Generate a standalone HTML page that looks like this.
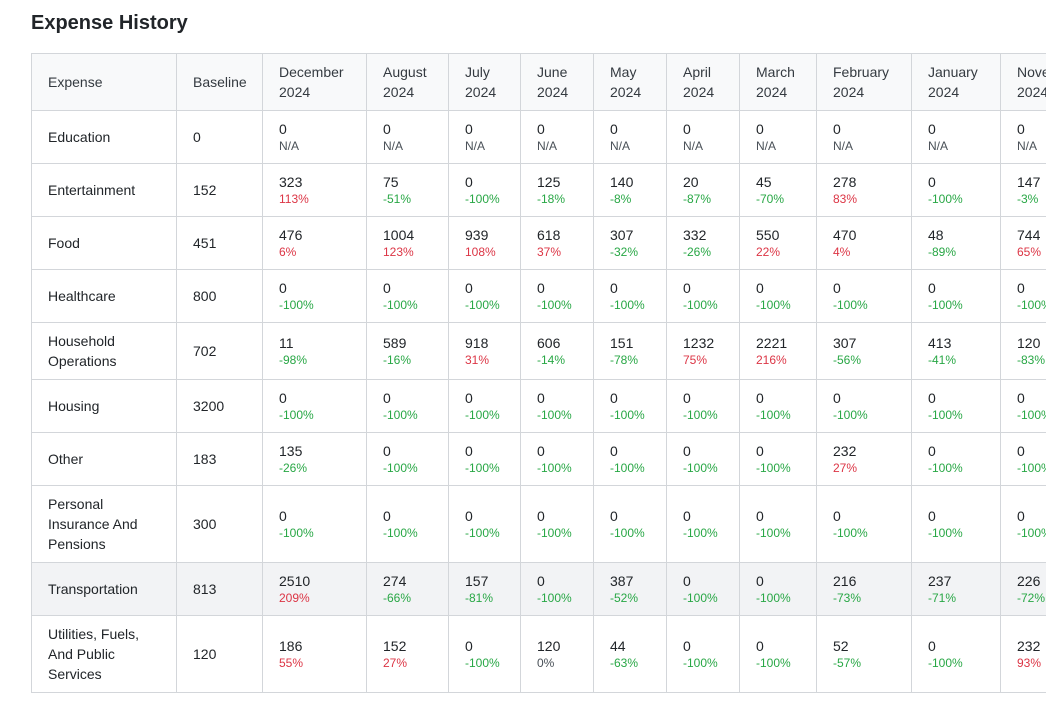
<!DOCTYPE html>
<html><head><meta charset="utf-8"><style>
html,body{margin:0;padding:0;background:#fff;width:1046px;height:701px;overflow:hidden;font-family:"Liberation Sans",Arial,sans-serif;color:#212529}
h1{position:absolute;left:31px;top:10px;margin:0;font-size:20px;font-weight:bold;line-height:26px}
table{position:absolute;left:31px;top:53px;border-collapse:collapse;table-layout:fixed;width:1100px}
td,th{border:1px solid #d3d6da;padding:0 8px 0 16px;font-size:14px;line-height:20px;vertical-align:middle;text-align:left;font-weight:normal}
th{background:#f8f9fa;color:#343a40}
td .v{line-height:18px}
td .p{font-size:12px;line-height:16px}
.r{color:#dc3545}.g{color:#28a745}.n{color:#495057}
tr.hl td{background:#f2f3f5}
</style></head><body>
<h1>Expense History</h1>
<table>
<colgroup><col style="width:145px"><col style="width:86px"><col style="width:104px"><col style="width:82px"><col style="width:72px"><col style="width:73px"><col style="width:73px"><col style="width:73px"><col style="width:77px"><col style="width:95px"><col style="width:89px"><col style="width:131px"></colgroup>
<tr style="height:57px"><th>Expense</th><th>Baseline</th><th>December<br>2024</th><th>August<br>2024</th><th>July<br>2024</th><th>June<br>2024</th><th>May<br>2024</th><th>April<br>2024</th><th>March<br>2024</th><th>February<br>2024</th><th>January<br>2024</th><th>November<br>2024</th></tr>
<tr style="height:53px"><td>Education</td><td>0</td>
<td><div class="v">0</div><div class="p n">N/A</div></td><td><div class="v">0</div><div class="p n">N/A</div></td><td><div class="v">0</div><div class="p n">N/A</div></td><td><div class="v">0</div><div class="p n">N/A</div></td><td><div class="v">0</div><div class="p n">N/A</div></td><td><div class="v">0</div><div class="p n">N/A</div></td><td><div class="v">0</div><div class="p n">N/A</div></td><td><div class="v">0</div><div class="p n">N/A</div></td><td><div class="v">0</div><div class="p n">N/A</div></td><td><div class="v">0</div><div class="p n">N/A</div></td></tr>
<tr style="height:53px"><td>Entertainment</td><td>152</td>
<td><div class="v">323</div><div class="p r">113%</div></td><td><div class="v">75</div><div class="p g">-51%</div></td><td><div class="v">0</div><div class="p g">-100%</div></td><td><div class="v">125</div><div class="p g">-18%</div></td><td><div class="v">140</div><div class="p g">-8%</div></td><td><div class="v">20</div><div class="p g">-87%</div></td><td><div class="v">45</div><div class="p g">-70%</div></td><td><div class="v">278</div><div class="p r">83%</div></td><td><div class="v">0</div><div class="p g">-100%</div></td><td><div class="v">147</div><div class="p g">-3%</div></td></tr>
<tr style="height:53px"><td>Food</td><td>451</td>
<td><div class="v">476</div><div class="p r">6%</div></td><td><div class="v">1004</div><div class="p r">123%</div></td><td><div class="v">939</div><div class="p r">108%</div></td><td><div class="v">618</div><div class="p r">37%</div></td><td><div class="v">307</div><div class="p g">-32%</div></td><td><div class="v">332</div><div class="p g">-26%</div></td><td><div class="v">550</div><div class="p r">22%</div></td><td><div class="v">470</div><div class="p r">4%</div></td><td><div class="v">48</div><div class="p g">-89%</div></td><td><div class="v">744</div><div class="p r">65%</div></td></tr>
<tr style="height:53px"><td>Healthcare</td><td>800</td>
<td><div class="v">0</div><div class="p g">-100%</div></td><td><div class="v">0</div><div class="p g">-100%</div></td><td><div class="v">0</div><div class="p g">-100%</div></td><td><div class="v">0</div><div class="p g">-100%</div></td><td><div class="v">0</div><div class="p g">-100%</div></td><td><div class="v">0</div><div class="p g">-100%</div></td><td><div class="v">0</div><div class="p g">-100%</div></td><td><div class="v">0</div><div class="p g">-100%</div></td><td><div class="v">0</div><div class="p g">-100%</div></td><td><div class="v">0</div><div class="p g">-100%</div></td></tr>
<tr style="height:57px"><td>Household<br>Operations</td><td>702</td>
<td><div class="v">11</div><div class="p g">-98%</div></td><td><div class="v">589</div><div class="p g">-16%</div></td><td><div class="v">918</div><div class="p r">31%</div></td><td><div class="v">606</div><div class="p g">-14%</div></td><td><div class="v">151</div><div class="p g">-78%</div></td><td><div class="v">1232</div><div class="p r">75%</div></td><td><div class="v">2221</div><div class="p r">216%</div></td><td><div class="v">307</div><div class="p g">-56%</div></td><td><div class="v">413</div><div class="p g">-41%</div></td><td><div class="v">120</div><div class="p g">-83%</div></td></tr>
<tr style="height:53px"><td>Housing</td><td>3200</td>
<td><div class="v">0</div><div class="p g">-100%</div></td><td><div class="v">0</div><div class="p g">-100%</div></td><td><div class="v">0</div><div class="p g">-100%</div></td><td><div class="v">0</div><div class="p g">-100%</div></td><td><div class="v">0</div><div class="p g">-100%</div></td><td><div class="v">0</div><div class="p g">-100%</div></td><td><div class="v">0</div><div class="p g">-100%</div></td><td><div class="v">0</div><div class="p g">-100%</div></td><td><div class="v">0</div><div class="p g">-100%</div></td><td><div class="v">0</div><div class="p g">-100%</div></td></tr>
<tr style="height:53px"><td>Other</td><td>183</td>
<td><div class="v">135</div><div class="p g">-26%</div></td><td><div class="v">0</div><div class="p g">-100%</div></td><td><div class="v">0</div><div class="p g">-100%</div></td><td><div class="v">0</div><div class="p g">-100%</div></td><td><div class="v">0</div><div class="p g">-100%</div></td><td><div class="v">0</div><div class="p g">-100%</div></td><td><div class="v">0</div><div class="p g">-100%</div></td><td><div class="v">232</div><div class="p r">27%</div></td><td><div class="v">0</div><div class="p g">-100%</div></td><td><div class="v">0</div><div class="p g">-100%</div></td></tr>
<tr style="height:77px"><td>Personal<br>Insurance And<br>Pensions</td><td>300</td>
<td><div class="v">0</div><div class="p g">-100%</div></td><td><div class="v">0</div><div class="p g">-100%</div></td><td><div class="v">0</div><div class="p g">-100%</div></td><td><div class="v">0</div><div class="p g">-100%</div></td><td><div class="v">0</div><div class="p g">-100%</div></td><td><div class="v">0</div><div class="p g">-100%</div></td><td><div class="v">0</div><div class="p g">-100%</div></td><td><div class="v">0</div><div class="p g">-100%</div></td><td><div class="v">0</div><div class="p g">-100%</div></td><td><div class="v">0</div><div class="p g">-100%</div></td></tr>
<tr class="hl" style="height:53px"><td>Transportation</td><td>813</td>
<td><div class="v">2510</div><div class="p r">209%</div></td><td><div class="v">274</div><div class="p g">-66%</div></td><td><div class="v">157</div><div class="p g">-81%</div></td><td><div class="v">0</div><div class="p g">-100%</div></td><td><div class="v">387</div><div class="p g">-52%</div></td><td><div class="v">0</div><div class="p g">-100%</div></td><td><div class="v">0</div><div class="p g">-100%</div></td><td><div class="v">216</div><div class="p g">-73%</div></td><td><div class="v">237</div><div class="p g">-71%</div></td><td><div class="v">226</div><div class="p g">-72%</div></td></tr>
<tr style="height:77px"><td>Utilities, Fuels,<br>And Public<br>Services</td><td>120</td>
<td><div class="v">186</div><div class="p r">55%</div></td><td><div class="v">152</div><div class="p r">27%</div></td><td><div class="v">0</div><div class="p g">-100%</div></td><td><div class="v">120</div><div class="p n">0%</div></td><td><div class="v">44</div><div class="p g">-63%</div></td><td><div class="v">0</div><div class="p g">-100%</div></td><td><div class="v">0</div><div class="p g">-100%</div></td><td><div class="v">52</div><div class="p g">-57%</div></td><td><div class="v">0</div><div class="p g">-100%</div></td><td><div class="v">232</div><div class="p r">93%</div></td></tr>
</table>
</body></html>
